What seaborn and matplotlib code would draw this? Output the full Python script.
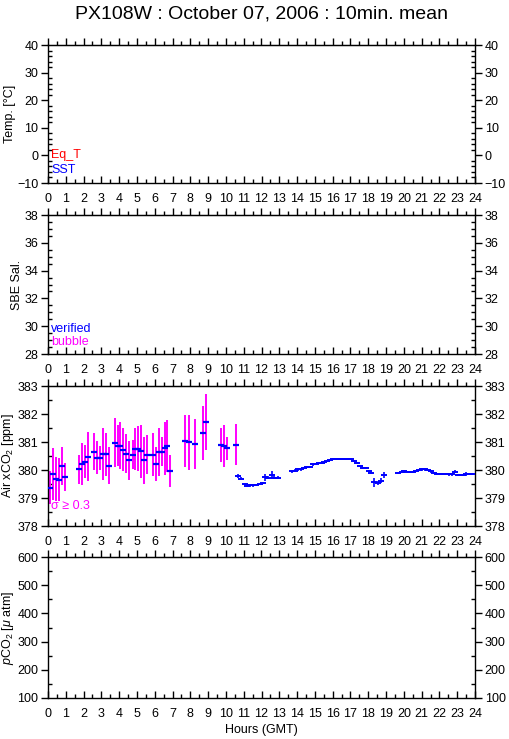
import numpy as np
import pandas as pd
import seaborn as sns
import matplotlib.pyplot as plt
from matplotlib.ticker import MultipleLocator

# bubble-flagged 10 min means (sigma >= 0.3)
bub_hour = [0.10, 0.26, 0.45, 0.62, 0.77, 0.93, 1.74, 1.91, 2.07, 2.26, 2.58, 2.75,
            2.92, 3.08, 3.25, 3.42, 3.76, 3.93, 4.07, 4.24, 4.41, 4.58, 4.75, 4.90,
            5.07, 5.23, 5.38, 5.55, 5.89, 6.06, 6.22, 6.39, 6.56, 6.71, 6.88, 7.72,
            7.90, 8.24, 8.73, 8.90, 9.72, 9.89, 10.06, 10.56]
bub_co2 = [379.37, 379.86, 379.68, 379.66, 380.15, 379.75, 380.02, 380.22, 380.30, 380.48,
           380.66, 380.44, 380.44, 380.56, 380.56, 380.15, 380.98, 380.87, 380.87, 380.73,
           380.58, 380.34, 380.55, 380.74, 380.76, 380.67, 380.34, 380.55, 380.55, 380.22,
           380.63, 380.66, 380.78, 380.87, 379.95, 381.03, 380.99, 380.92, 381.32, 381.70,
           380.88, 380.85, 380.78, 380.91]
bub_sig = [0.60, 0.92, 0.79, 0.78, 0.67, 0.50, 0.52, 0.76, 0.59, 0.88, 0.67, 0.60,
           0.43, 0.93, 0.76, 0.66, 0.88, 0.73, 0.83, 0.78, 0.70, 0.68, 0.53, 0.75,
           0.80, 0.95, 0.85, 0.71, 0.77, 0.60, 0.86, 0.52, 0.95, 0.93, 0.57, 0.93,
           0.98, 0.90, 0.95, 1.00, 0.61, 0.74, 0.41, 0.72]

# verified 10 min means
ver_hour = [10.70, 10.84, 11.05, 11.19, 11.37, 11.53, 11.69, 11.93, 12.07, 12.22, 12.37,
            12.58, 12.73, 12.90, 13.72, 13.89, 14.06, 14.22, 14.37, 14.54, 14.71, 14.88,
            15.04, 15.21, 15.38, 15.53, 15.70, 15.87, 16.03, 16.19, 16.35, 16.52, 16.69,
            16.85, 17.02, 17.19, 17.34, 17.51, 17.68, 17.85, 18.02, 18.18, 18.35, 18.52,
            18.69, 18.88, 19.70, 19.87, 20.02, 20.21, 20.37, 20.52, 20.67, 20.86, 21.03,
            21.20, 21.36, 21.51, 21.68, 21.85, 22.02, 22.19, 22.35, 22.52, 22.69, 22.86,
            23.03, 23.18, 23.35, 23.52, 23.69, 23.85]
ver_co2 = [379.78, 379.69, 379.50, 379.42, 379.45, 379.45, 379.46, 379.51, 379.54, 379.74,
           379.72, 379.83, 379.73, 379.73, 379.95, 379.98, 380.02, 380.02, 380.06, 380.12,
           380.12, 380.20, 380.21, 380.25, 380.26, 380.28, 380.32, 380.36, 380.38, 380.38,
           380.38, 380.38, 380.38, 380.38, 380.38, 380.32, 380.26, 380.14, 380.08, 380.08,
           379.97, 379.90, 379.56, 379.53, 379.62, 379.83, 379.90, 379.94, 379.95, 379.94,
           379.94, 379.94, 379.96, 380.00, 380.02, 380.02, 380.01, 379.95, 379.90, 379.86,
           379.86, 379.86, 379.86, 379.84, 379.84, 379.94, 379.83, 379.83, 379.83, 379.86,
           379.86, 379.86]
ver_sig = [0.06, 0.05, 0.05, 0.04, 0.04, 0.04, 0.04, 0.04, 0.04, 0.12, 0.05,
           0.12, 0.04, 0.04, 0.04, 0.04, 0.04, 0.04, 0.04, 0.04, 0.04, 0.04,
           0.04, 0.04, 0.04, 0.04, 0.04, 0.04, 0.04, 0.04, 0.04, 0.04, 0.04,
           0.04, 0.04, 0.04, 0.04, 0.04, 0.04, 0.04, 0.04, 0.04, 0.16, 0.06,
           0.10, 0.10, 0.04, 0.04, 0.04, 0.04, 0.04, 0.04, 0.04, 0.04, 0.04,
           0.04, 0.04, 0.04, 0.04, 0.04, 0.04, 0.04, 0.04, 0.04, 0.04, 0.06,
           0.04, 0.04, 0.04, 0.06, 0.04, 0.04]

hour_ticks = list(range(0, 25))
panel_ylims = [(-10, 40), (28, 38), (378, 383), (100, 600)]
panel_major = [10, 2, 1, 100]
panel_minor = [2, 0.5, 0.5, 50]
panel_ylabels = ['Temp. [°C]', 'SBE Sal.', 'Air xCO$_2$ [ppm]', '$p$CO$_2$ [$\\mu$ atm]']

bub = pd.DataFrame({'hour': bub_hour, 'co2': bub_co2, 'sig': bub_sig})
ver = pd.DataFrame({'hour': ver_hour, 'co2': ver_co2, 'sig': ver_sig})

sns.set_style('white')
plt.rcParams['font.family'] = ['Liberation Sans', 'DejaVu Sans']
plt.rcParams['mathtext.fontset'] = 'custom'
plt.rcParams['mathtext.rm'] = 'Liberation Sans'
plt.rcParams['mathtext.it'] = 'Liberation Sans:italic'
for k in ['text.color', 'axes.labelcolor', 'xtick.color', 'ytick.color']:
    plt.rcParams[k] = 'black'

fig = plt.figure(figsize=(5.09, 7.39), dpi=100)
left, width = 48 / 509, 427 / 509
boxes = [(183, 138), (354, 139), (526, 140), (698, 141)]
axes = []
for (bot, h) in boxes:
    axes.append(fig.add_axes([left, (739 - bot) / 739, width, h / 739]))

for i, ax in enumerate(axes):
    ax.set_xlim(0, 24)
    ax.set_ylim(*panel_ylims[i])
    ax.set_xticks(hour_ticks)
    ax.xaxis.set_minor_locator(MultipleLocator(0.5))
    ax.yaxis.set_major_locator(MultipleLocator(panel_major[i]))
    ax.yaxis.set_minor_locator(MultipleLocator(panel_minor[i]))
    ax.tick_params(axis='x', which='both', bottom=True, top=False, direction='in',
                   labelsize=9, pad=7, width=1, color='black')
    ax.tick_params(axis='x', which='major', length=5)
    ax.tick_params(axis='x', which='minor', length=3)
    ax.tick_params(axis='y', which='both', left=True, right=True, labelright=True,
                   labelsize=9, width=1, color='black')
    ax.tick_params(axis='y', which='major', direction='out', length=5, pad=2)
    ax.tick_params(axis='y', which='minor', direction='in', length=3)
    top = ax.secondary_xaxis('top')
    top.set_xticks(hour_ticks)
    top.xaxis.set_minor_locator(MultipleLocator(0.5))
    top.tick_params(axis='x', which='both', direction='out', labeltop=False, width=1)
    top.tick_params(axis='x', which='major', length=5)
    top.tick_params(axis='x', which='minor', length=3)
    for s in ax.spines.values():
        s.set_color('black')
        s.set_linewidth(1)
    ax.set_ylabel(panel_ylabels[i], fontsize=9, labelpad=1)

# air xCO2 panel
ax3 = axes[2]
ax3.vlines(bub['hour'], bub['co2'] - bub['sig'], bub['co2'] + bub['sig'],
           color='#ff00ff', linewidth=1.4, zorder=2)
ax3.vlines(ver['hour'], ver['co2'] - ver['sig'], ver['co2'] + ver['sig'],
           color='#0000ff', linewidth=1.2, zorder=3)
sns.scatterplot(data=bub, x='hour', y='co2', marker='_', s=22, color='#0000ff',
                linewidth=1.6, ax=ax3, zorder=4)
sns.scatterplot(data=ver, x='hour', y='co2', marker='_', s=22, color='#0000ff',
                linewidth=1.4, ax=ax3, zorder=4)

axes[0].text(0.008, 0.18, 'Eq_T', color='red', fontsize=9, transform=axes[0].transAxes)
axes[0].text(0.008, 0.07, 'SST', color='blue', fontsize=9, transform=axes[0].transAxes)
axes[1].text(0.008, 0.155, 'verified', color='blue', fontsize=9, transform=axes[1].transAxes)
axes[1].text(0.008, 0.065, 'bubble', color='#ff00ff', fontsize=9, transform=axes[1].transAxes)
axes[2].text(0.008, 0.12, 'σ ≥ 0.3', color='#ff00ff', fontsize=9, transform=axes[2].transAxes)

for ax in axes:
    ax.set_xlabel('')
axes[3].set_xlabel('Hours (GMT)', fontsize=9, labelpad=3)

fig.text((48 + 475) / 2 / 509, 0.981, 'PX108W : October 07, 2006 : 10min. mean',
         ha='center', va='center', fontsize=14)

fig.savefig('out.png', dpi=100)
